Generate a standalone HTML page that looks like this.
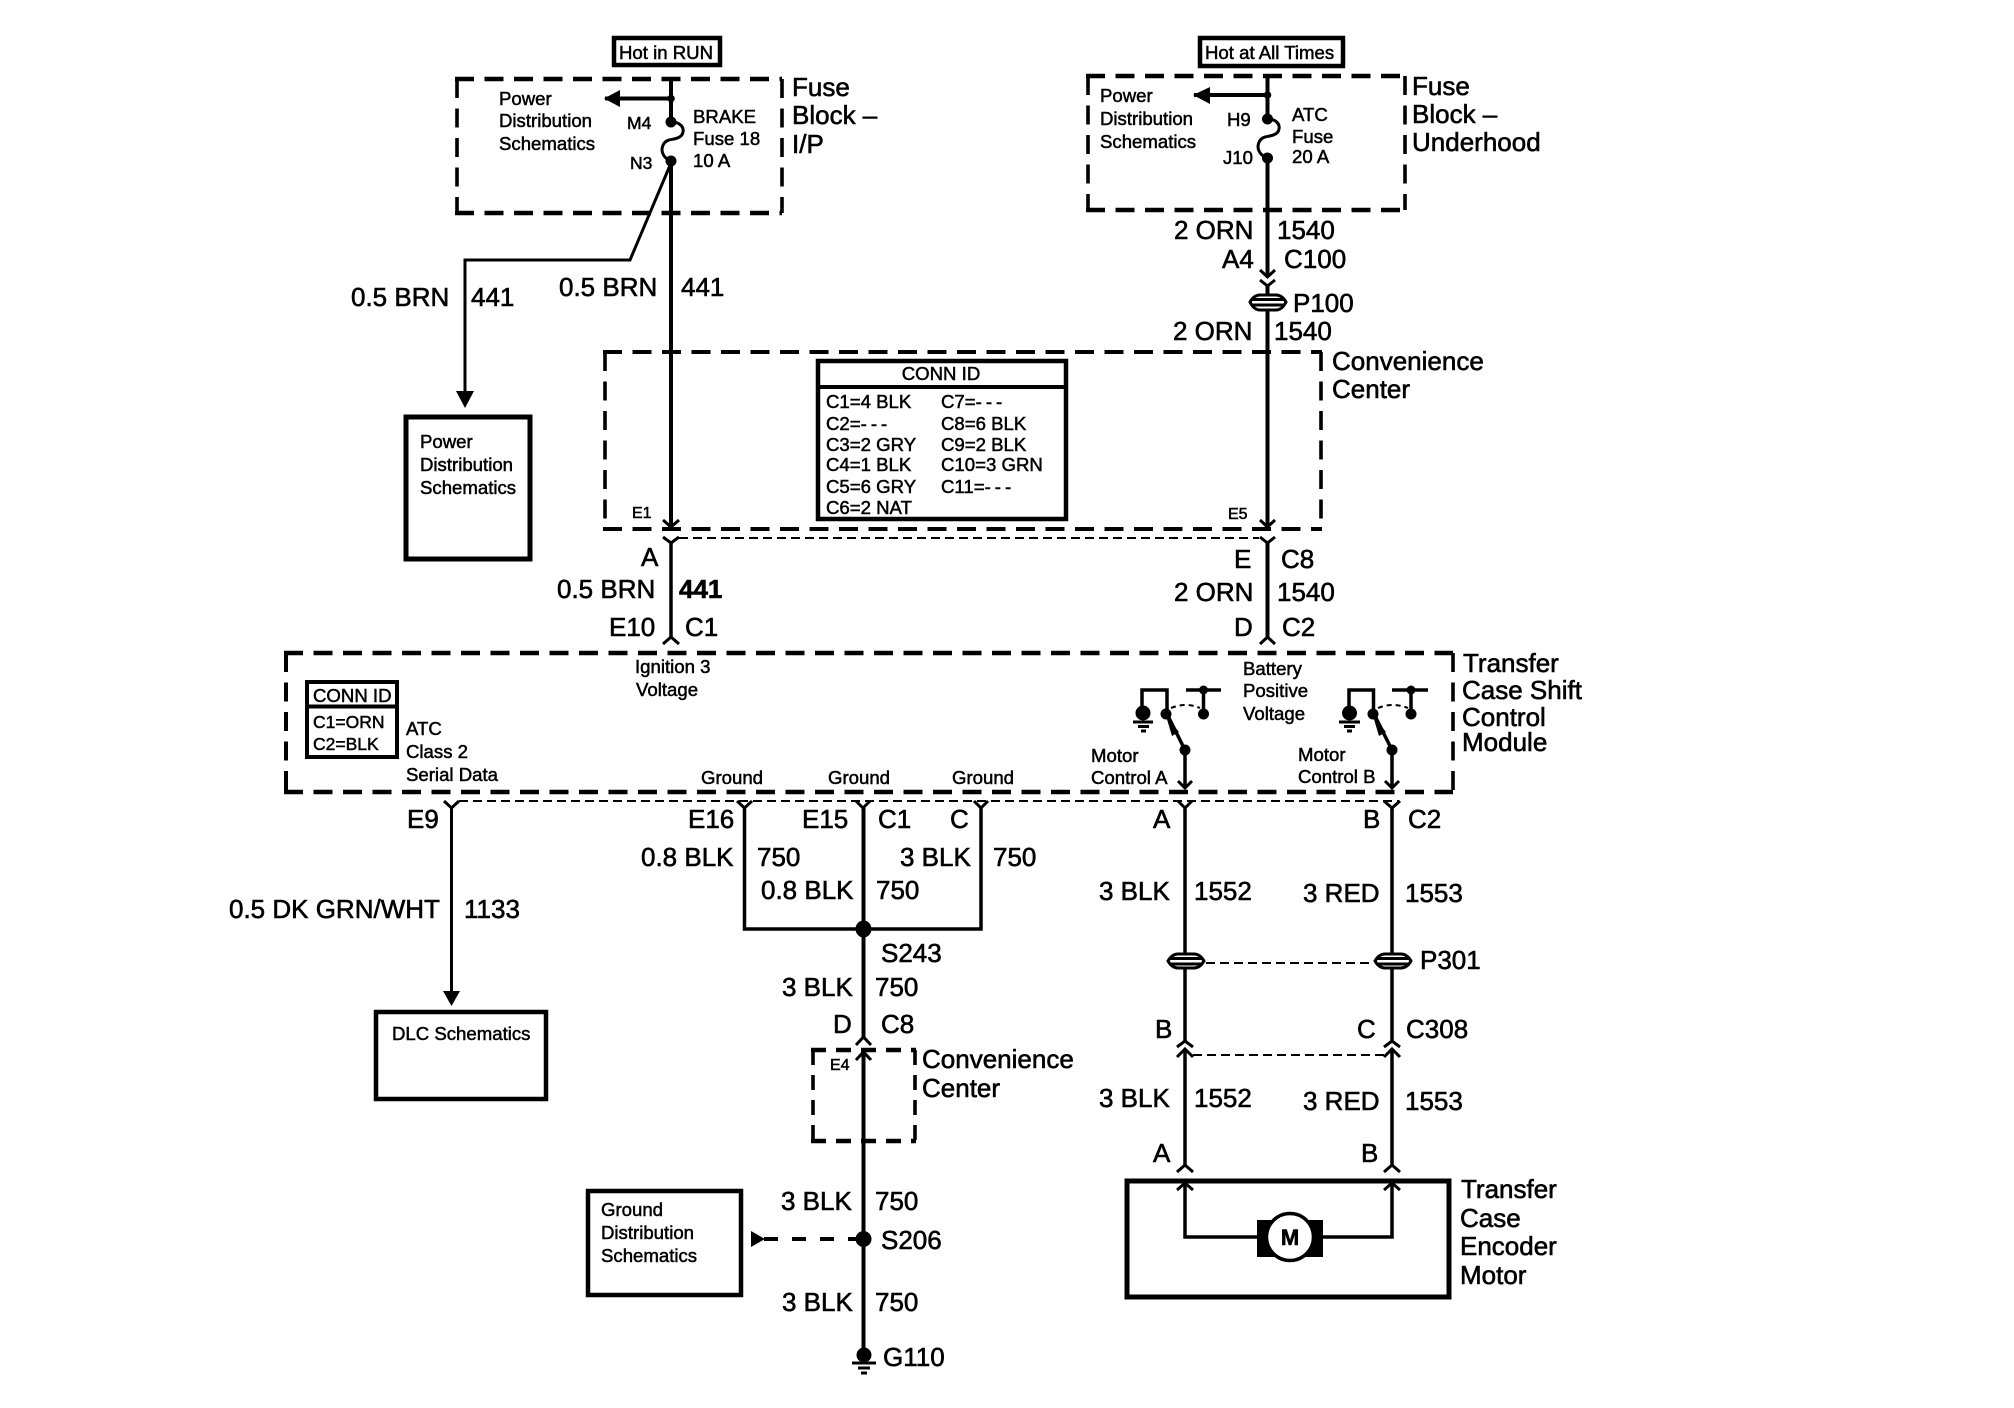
<!DOCTYPE html>
<html><head><meta charset="utf-8"><style>
html,body{margin:0;padding:0;background:#fff}
svg{display:block}
text{font-family:"Liberation Sans",sans-serif;fill:#000;stroke:#000;stroke-width:.6}
.l{font-size:26px}
.s{font-size:18.6px;stroke-width:.5}
.w{fill:none;stroke:#000;stroke-width:4}
.t{fill:none;stroke:#000;stroke-width:3}
.d{fill:none;stroke:#000;stroke-width:4.5;stroke-dasharray:19 10.5}
.v{fill:none;stroke:#000;stroke-width:3.6;stroke-dasharray:19 10.5}
.h{fill:none;stroke:#000;stroke-width:2;stroke-dasharray:9 5}
.b{fill:#fff;stroke:#000;stroke-width:4.5}
.c{fill:#fff;stroke:#000;stroke-width:3}
</style></head><body>
<svg width="2014" height="1408" viewBox="0 0 2014 1408" xmlns="http://www.w3.org/2000/svg">
<rect width="2014" height="1408" fill="#fff"/>

<!-- dashed module boxes -->
<path class="d" d="M455 79H782M455 213H782"/>
<path class="v" d="M457 79V213M782 79V213"/>
<path class="d" d="M1086 76H1405M1086 210H1405"/>
<path class="v" d="M1088 76V210M1405 76V210"/>
<path class="d" style="stroke-width:4" d="M603 352H1322M603 529H1322"/>
<path class="v" d="M605 352V529M1321 352V529"/>
<path class="d" d="M284 653H1453M284 792H1453"/>
<path class="v" style="stroke-width:4" d="M286 653V792"/>
<path class="v" d="M1453 653V792"/>
<path class="d" style="stroke-dasharray:15 10" d="M811 1050H916M811 1141H916"/>
<path class="v" style="stroke-dasharray:15 10" d="M813 1050V1141M915 1050V1141"/>

<!-- solid boxes -->
<rect class="b" x="614" y="38" width="106" height="27"/>
<rect class="b" x="1200" y="38" width="143" height="28"/>
<rect class="b" style="stroke-width:5" x="406" y="417" width="124" height="142"/>
<rect class="b" x="818" y="361" width="248" height="158"/>
<path class="w" d="M818 387H1066"/>
<rect class="b" style="stroke-width:4" x="307" y="682" width="90" height="75"/>
<path class="t" d="M307 706.5H397" style="stroke-width:4"/>
<rect class="b" x="376" y="1012" width="170" height="87"/>
<rect class="b" x="588" y="1191" width="153" height="104"/>
<rect class="b" style="stroke-width:5" x="1127" y="1181" width="322" height="116"/>

<!-- left fuse & wires -->
<path class="w" d="M671 79V122M605 98.5H671"/>
<path d="M604 98.5L620 90V107Z"/>
<circle cx="671" cy="98.5" r="3.8"/><circle cx="671" cy="122" r="5.5"/><circle cx="671" cy="161" r="5.5"/>
<path class="t" d="M671 122C680 122 684 127 683 132C682 139 672 139 669 140C662 142 661 150 663 154C665 158 668 160 671 160"/>
<path class="w" d="M671 161V526"/>
<path class="t" d="M671 163L630 260H465V395"/>
<path d="M456 391H474L465 408Z"/>
<path class="t" d="M663 520L671 527L679 520"/>
<path class="t" d="M663 537L671 543L679 537"/>
<path class="w" style="stroke-width:3.5" d="M671 543V637"/>
<path class="t" d="M663 644L671 637L679 644"/>
<path class="h" d="M679 538H1259"/>

<!-- right fuse & wires -->
<path class="w" d="M1267.5 76V119M1194 95H1267.5"/>
<path d="M1193 95L1210 87V104Z"/>
<circle cx="1267.5" cy="95" r="3.8"/><circle cx="1267.5" cy="119" r="5.5"/><circle cx="1267.5" cy="158" r="5.5"/>
<path class="t" d="M1267.5 119C1276 119 1280 124 1279 129C1278 136 1268 136 1265 137C1258 139 1257 147 1259 151C1261 155 1264 157 1267.5 157"/>
<path class="w" d="M1267.5 158V277M1267.5 286V526"/>
<path class="t" d="M1260 270L1267.5 277L1275 270M1260 280L1267.5 286L1275 280"/>
<!-- P100 -->
<path class="c" d="M1250 302Q1254 295 1260 295H1276Q1282 295 1286 302Q1282 310 1276 310H1260Q1254 310 1250 302Z"/>
<path class="t" d="M1251 299.5H1285M1251 305H1285"/>
<path class="t" d="M1260 520L1267.5 527L1275 520M1260 537L1267.5 543L1275 537"/>
<path class="w" d="M1267.5 543V637"/>
<path class="t" d="M1260 644L1267.5 637L1275 644"/>

<!-- TCCM switches -->
<path class="w" style="stroke-width:3.5" d="M1142 714V690H1167V714"/>
<circle cx="1143" cy="713" r="7.5"/><path class="t" d="M1133 722H1153M1138 726.5H1149M1141 731H1146"/>
<circle cx="1166" cy="714" r="5.5"/><circle cx="1203.5" cy="714" r="5.5"/><circle cx="1203.5" cy="690" r="4.5"/><circle cx="1185" cy="750" r="5.5"/>
<path class="w" style="stroke-width:3.5" d="M1186 690H1221M1203.5 690V714"/>
<path class="t" style="stroke-dasharray:5 4;stroke-width:2" d="M1171 708Q1186 702 1200 708"/>
<path class="w" style="stroke-width:3.5" d="M1168 716L1185 750V787"/>
<path d="M1166 716L1179 732L1172 736Z"/>
<path class="t" d="M1178 781L1185 788L1192 781"/>

<path class="w" style="stroke-width:3.5" d="M1349 714V690H1373.5V714"/>
<circle cx="1349.5" cy="713" r="7.5"/><path class="t" d="M1339 722H1360M1344 726.5H1355M1347 731H1352"/>
<circle cx="1373" cy="714" r="5.5"/><circle cx="1411" cy="714" r="5.5"/><circle cx="1411" cy="690" r="4.5"/><circle cx="1392" cy="750" r="5.5"/>
<path class="w" style="stroke-width:3.5" d="M1392 690H1428M1411 690V714"/>
<path class="t" style="stroke-dasharray:5 4;stroke-width:2" d="M1378 708Q1393 702 1408 708"/>
<path class="w" style="stroke-width:3.5" d="M1375 716L1392 750V787"/>
<path d="M1373 716L1386 732L1379 736Z"/>
<path class="t" d="M1385 781L1392 788L1399 781"/>

<!-- lower connector row -->
<path class="h" d="M459 801H1399"/>
<path class="t" d="M444 801L451.5 808L459 801"/>
<path class="t" d="M737 801L744.5 808L752 801"/>
<path class="t" d="M856 801L863 808L870 801"/>
<path class="t" d="M974 801L981 808L988 801"/>
<path class="t" d="M1178 801L1185 808L1192 801"/>
<path class="t" d="M1384 801L1392 808L1400 801"/>

<path class="w" style="stroke-width:3" d="M451.5 808V995"/>
<path d="M443 991H460L451.5 1006Z"/>
<path class="w" style="stroke-width:3.5" d="M744.5 808V929H981V808"/>
<path class="w" d="M863.5 808V1037"/>
<ellipse cx="863.5" cy="929" rx="8" ry="8.5"/>
<path class="t" d="M856 1045L863.5 1037L871 1045"/>
<path class="t" d="M856 1060L863.5 1052L871 1060"/>
<path class="w" d="M863.5 1053V1350"/>
<circle cx="863.5" cy="1239" r="8"/>
<circle cx="864" cy="1355" r="7.5"/>
<path class="t" d="M852 1363H876M858 1368H870M861 1373H867"/>
<path class="w" style="stroke-dasharray:14 14" d="M862 1239H762"/>
<path d="M751 1231L765 1239L751 1247Z"/>

<!-- motor wires -->
<path class="w" style="stroke-width:3.5" d="M1185 808V1042M1392 808V1042"/>
<path class="w" style="stroke-width:3.5" d="M1185 1049V1165M1392 1049V1165"/>
<path class="t" d="M1177 1047L1185 1041L1193 1047M1384 1047L1392 1041L1400 1047"/>
<path class="t" d="M1177 1057L1185 1049L1193 1057M1384 1057L1392 1049L1400 1057"/>
<path class="h" d="M1193 1055H1384"/>
<path class="t" d="M1177 1172L1185 1165L1193 1172M1384 1172L1392 1165L1400 1172"/>
<path class="t" d="M1177 1190L1185 1183L1193 1190M1384 1190L1392 1183L1400 1190"/>
<path class="w" style="stroke-width:3.5" d="M1185 1184V1237H1258M1392 1184V1237H1322"/>
<rect x="1257" y="1220" width="66" height="37"/>
<circle cx="1290" cy="1237" r="23.5" fill="#fff" stroke="#000" stroke-width="3.5"/>
<!-- P301 -->
<path class="c" d="M1168 961Q1172 954 1178 954H1194Q1200 954 1204 961Q1200 968 1194 968H1178Q1172 968 1168 961Z"/>
<path class="t" d="M1169 958.5H1203M1169 964H1203"/>
<path class="c" d="M1375 961Q1379 954 1385 954H1401Q1407 954 1411 961Q1407 968 1401 968H1385Q1379 968 1375 961Z"/>
<path class="t" d="M1376 958.5H1410M1376 964H1410"/>
<path class="h" d="M1206 963H1373"/>

<!-- labels: top left -->
<text class="s" x="619" y="59">Hot in RUN</text>
<text class="s" x="499" y="105">Power</text>
<text class="s" x="499" y="127">Distribution</text>
<text class="s" x="499" y="150">Schematics</text>
<text class="s" x="627" y="129" style="font-size:17.5px">M4</text>
<text class="s" x="630" y="169" style="font-size:17.5px">N3</text>
<text class="s" x="693" y="123">BRAKE</text>
<text class="s" x="693" y="145">Fuse 18</text>
<text class="s" x="693" y="167">10 A</text>
<text class="l" x="792" y="96">Fuse</text>
<text class="l" x="792" y="124">Block –</text>
<text class="l" x="792" y="153">I/P</text>
<text class="l" x="351" y="306">0.5 BRN</text>
<text class="l" x="471" y="306">441</text>
<text class="l" x="559" y="296">0.5 BRN</text>
<text class="l" x="681" y="296">441</text>
<text class="s" x="420" y="448">Power</text>
<text class="s" x="420" y="471">Distribution</text>
<text class="s" x="420" y="494">Schematics</text>

<!-- CONN ID big -->
<text class="s" x="941" y="380" text-anchor="middle">CONN ID</text>
<text class="s" x="826" y="408">C1=4 BLK</text>
<text class="s" x="826" y="430">C2=<tspan letter-spacing="4">---</tspan></text>
<text class="s" x="826" y="451">C3=2 GRY</text>
<text class="s" x="826" y="471">C4=1 BLK</text>
<text class="s" x="826" y="493">C5=6 GRY</text>
<text class="s" x="826" y="514">C6=2 NAT</text>
<text class="s" x="941" y="408">C7=<tspan letter-spacing="4">---</tspan></text>
<text class="s" x="941" y="430">C8=6 BLK</text>
<text class="s" x="941" y="451">C9=2 BLK</text>
<text class="s" x="941" y="471">C10=3 GRN</text>
<text class="s" x="941" y="493">C11=<tspan letter-spacing="4">---</tspan></text>
<text class="s" x="632" y="518" style="font-size:16px">E1</text>
<text class="s" x="1228" y="519" style="font-size:16px">E5</text>

<!-- top right -->
<text class="s" x="1205" y="59">Hot at All Times</text>
<text class="s" x="1100" y="102">Power</text>
<text class="s" x="1100" y="125">Distribution</text>
<text class="s" x="1100" y="148">Schematics</text>
<text class="s" x="1227" y="126">H9</text>
<text class="s" x="1223" y="164">J10</text>
<text class="s" x="1292" y="121">ATC</text>
<text class="s" x="1292" y="143">Fuse</text>
<text class="s" x="1292" y="163">20 A</text>
<text class="l" x="1412" y="95">Fuse</text>
<text class="l" x="1412" y="123">Block –</text>
<text class="l" x="1412" y="151">Underhood</text>
<text class="l" x="1174" y="239">2 ORN</text>
<text class="l" x="1277" y="239">1540</text>
<text class="l" x="1222" y="268">A4</text>
<text class="l" x="1284" y="268">C100</text>
<text class="l" x="1293" y="312">P100</text>
<text class="l" x="1173" y="340">2 ORN</text>
<text class="l" x="1274" y="340">1540</text>
<text class="l" x="1332" y="370">Convenience</text>
<text class="l" x="1332" y="398">Center</text>

<!-- between -->
<text class="l" x="641" y="566">A</text>
<text class="l" x="557" y="598">0.5 BRN</text>
<text class="l" x="679" y="598" font-weight="bold">441</text>
<text class="l" x="609" y="636">E10</text>
<text class="l" x="685" y="636">C1</text>
<text class="l" x="1234" y="568">E</text>
<text class="l" x="1281" y="568">C8</text>
<text class="l" x="1174" y="601">2 ORN</text>
<text class="l" x="1277" y="601">1540</text>
<text class="l" x="1234" y="636">D</text>
<text class="l" x="1282" y="636">C2</text>

<!-- TCCM inside -->
<text class="s" x="635" y="673">Ignition 3</text>
<text class="s" x="636" y="696">Voltage</text>
<text class="s" x="313" y="702">CONN ID</text>
<text class="s" x="313" y="728" style="font-size:17.5px">C1=ORN</text>
<text class="s" x="313" y="750" style="font-size:17.5px">C2=BLK</text>
<text class="s" x="406" y="735">ATC</text>
<text class="s" x="406" y="758">Class 2</text>
<text class="s" x="406" y="781">Serial Data</text>
<text class="s" x="701" y="784">Ground</text>
<text class="s" x="828" y="784">Ground</text>
<text class="s" x="952" y="784">Ground</text>
<text class="s" x="1091" y="762">Motor</text>
<text class="s" x="1091" y="784">Control A</text>
<text class="s" x="1298" y="761">Motor</text>
<text class="s" x="1298" y="783">Control B</text>
<text class="s" x="1243" y="675">Battery</text>
<text class="s" x="1243" y="697">Positive</text>
<text class="s" x="1243" y="720">Voltage</text>
<text class="l" x="1463" y="672">Transfer</text>
<text class="l" x="1462" y="699">Case Shift</text>
<text class="l" x="1462" y="726">Control</text>
<text class="l" x="1462" y="751">Module</text>

<!-- lower labels -->
<text class="l" x="407" y="828">E9</text>
<text class="l" x="688" y="828">E16</text>
<text class="l" x="802" y="828">E15</text>
<text class="l" x="878" y="828">C1</text>
<text class="l" x="950" y="828">C</text>
<text class="l" x="1153" y="828">A</text>
<text class="l" x="1363" y="828">B</text>
<text class="l" x="1408" y="828">C2</text>
<text class="l" x="641" y="866">0.8 BLK</text>
<text class="l" x="757" y="866">750</text>
<text class="l" x="900" y="866">3 BLK</text>
<text class="l" x="993" y="866">750</text>
<text class="l" x="761" y="899">0.8 BLK</text>
<text class="l" x="876" y="899">750</text>
<text class="l" x="229" y="918">0.5 DK GRN/WHT</text>
<text class="l" x="464" y="918">1133</text>
<text class="l" x="881" y="962">S243</text>
<text class="l" x="782" y="996">3 BLK</text>
<text class="l" x="875" y="996">750</text>
<text class="l" x="833" y="1033">D</text>
<text class="l" x="881" y="1033">C8</text>
<text class="s" x="392" y="1040">DLC Schematics</text>
<text class="s" x="830" y="1070" style="font-size:16px">E4</text>
<text class="l" x="922" y="1068">Convenience</text>
<text class="l" x="922" y="1097">Center</text>
<text class="s" x="601" y="1216">Ground</text>
<text class="s" x="601" y="1239">Distribution</text>
<text class="s" x="601" y="1262">Schematics</text>
<text class="l" x="781" y="1210">3 BLK</text>
<text class="l" x="875" y="1210">750</text>
<text class="l" x="881" y="1249">S206</text>
<text class="l" x="782" y="1311">3 BLK</text>
<text class="l" x="875" y="1311">750</text>
<text class="l" x="883" y="1366">G110</text>

<text class="l" x="1099" y="900">3 BLK</text>
<text class="l" x="1194" y="900">1552</text>
<text class="l" x="1303" y="902">3 RED</text>
<text class="l" x="1405" y="902">1553</text>
<text class="l" x="1420" y="969">P301</text>
<text class="l" x="1155" y="1038">B</text>
<text class="l" x="1357" y="1038">C</text>
<text class="l" x="1406" y="1038">C308</text>
<text class="l" x="1099" y="1107">3 BLK</text>
<text class="l" x="1194" y="1107">1552</text>
<text class="l" x="1303" y="1110">3 RED</text>
<text class="l" x="1405" y="1110">1553</text>
<text class="l" x="1153" y="1162">A</text>
<text class="l" x="1361" y="1162">B</text>
<text x="1290" y="1245" text-anchor="middle" font-size="22" font-weight="bold">M</text>
<text class="l" x="1461" y="1198">Transfer</text>
<text class="l" x="1460" y="1227">Case</text>
<text class="l" x="1460" y="1255">Encoder</text>
<text class="l" x="1460" y="1284">Motor</text>
</svg>
</body></html>
